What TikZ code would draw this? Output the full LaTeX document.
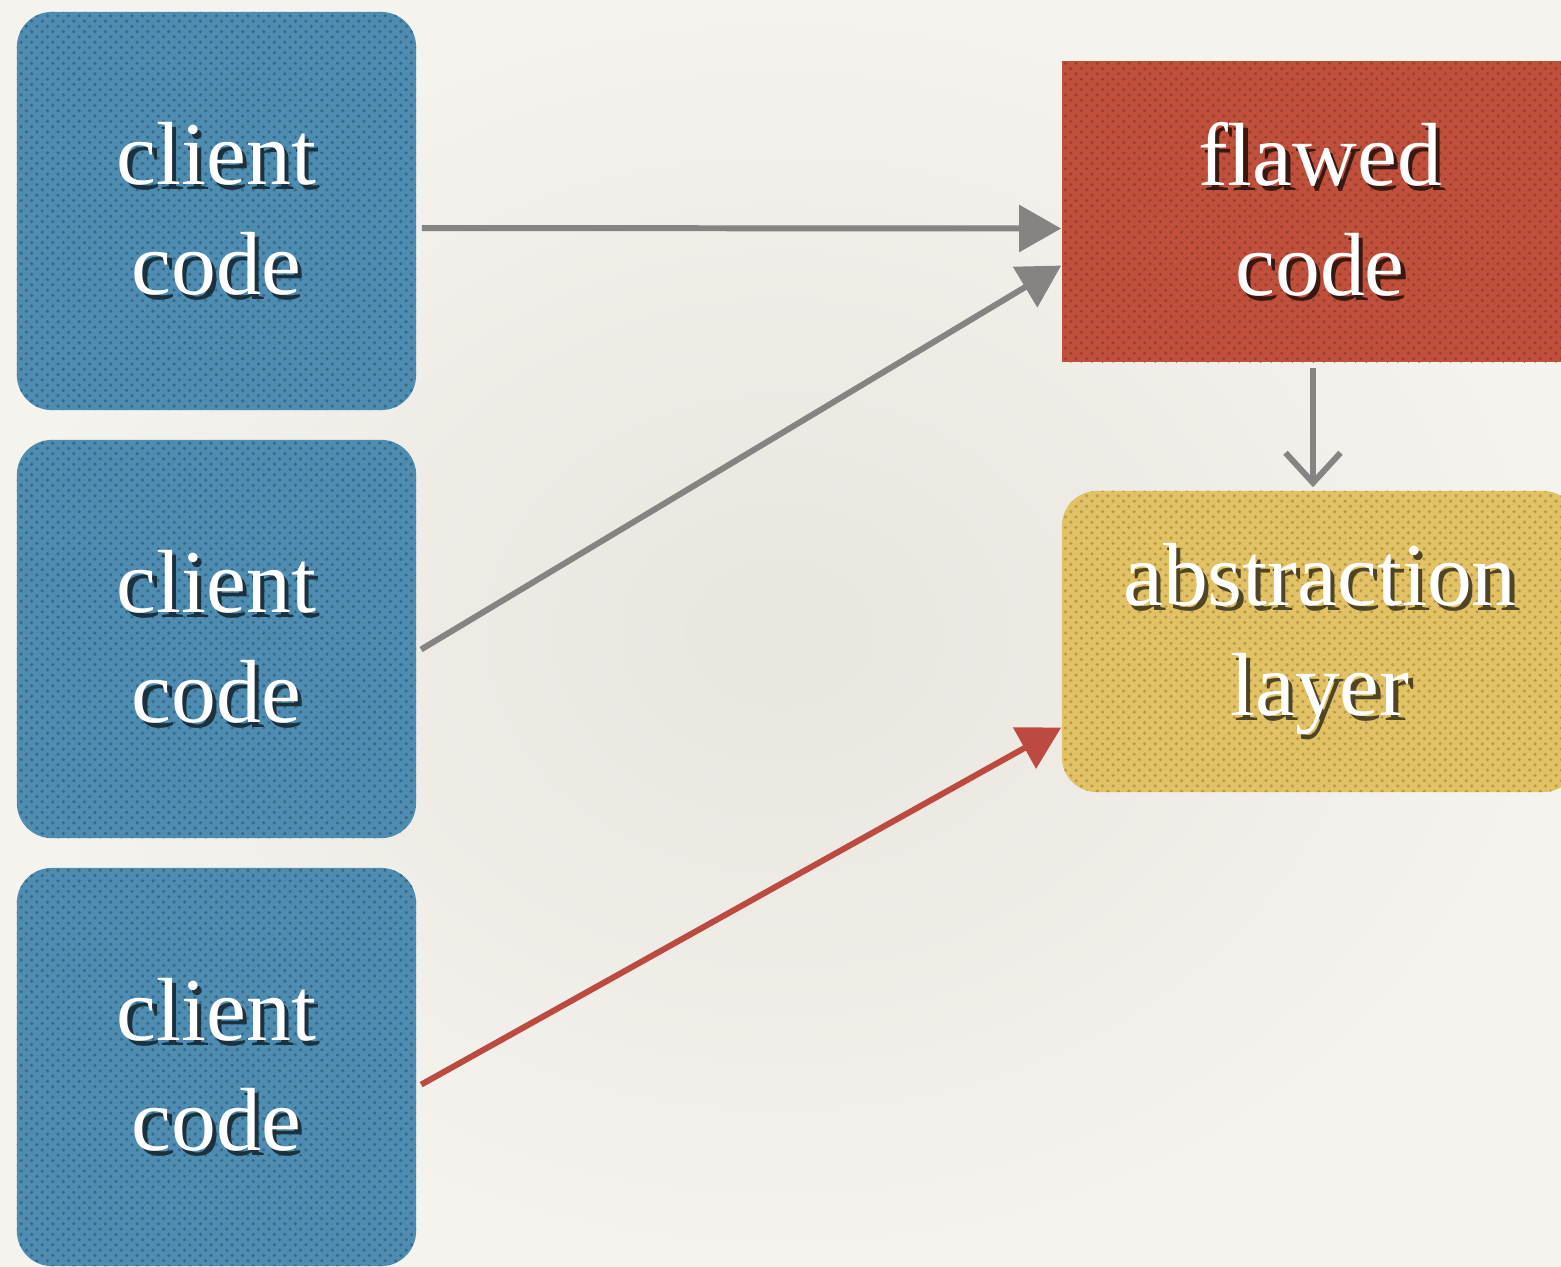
\documentclass[tikz,border=0pt]{standalone}
\usepackage{fontspec}
\setmainfont{Liberation Serif}
\usetikzlibrary{arrows.meta,patterns}
\definecolor{bgin}{HTML}{E9E5DF}
\definecolor{bgout}{HTML}{F5F3EE}
\definecolor{cblue}{HTML}{4E8CB2}
\definecolor{cred}{HTML}{C0503C}
\definecolor{cyel}{HTML}{E2C264}
\definecolor{agray}{HTML}{858482}
\definecolor{ared}{HTML}{BD4A40}
\newcommand\shtxt[2]{\makebox[0pt][l]{\hspace*{1.2pt}\raisebox{-1.4pt}{\textcolor{#1}{#2}}}#2}
\tikzset{
  boxbase/.style={draw=none, text=white, align=center,
    font=\fontsize{25.5}{31.3}\selectfont, inner sep=0pt},
  clientbox/.style={boxbase, fill=cblue, rounded corners=0.35cm,
    minimum width=3.99cm, minimum height=3.98cm,
    postaction={pattern=crosshatch dots, pattern color=cblue!75!black}},
  flawbox/.style={boxbase, fill=cred,
    minimum width=5.16cm, minimum height=3.01cm,
    postaction={pattern=crosshatch dots, pattern color=cred!80!black}},
  absbox/.style={boxbase, fill=cyel, rounded corners=0.35cm,
    minimum width=5.16cm, minimum height=3.01cm,
    postaction={pattern=crosshatch dots, pattern color=cyel!80!black}},
  conn/.style={line width=1.7pt, draw=agray, shorten <=0.05cm},
  filltip/.style={-{Triangle[length=0.42cm,width=0.46cm]}},
  opentip/.style={-{Straight Barb[length=0.3cm,width=0.55cm]}}
}
\begin{document}
\begin{tikzpicture}[x=0.01cm,y=-0.01cm]
\useasboundingbox (0,0) rectangle (1561,1266);
\clip (0,0) rectangle (1561,1266);
\shade[inner color=bgin, outer color=bgout] (0,0) rectangle (1561,1266);

\node[clientbox] (c1) at (216.5,211) {\shtxt{cblue!35!black}{client}\\\shtxt{cblue!35!black}{code}};
\node[clientbox] (c2) at (216.5,639) {\shtxt{cblue!35!black}{client}\\\shtxt{cblue!35!black}{code}};
\node[clientbox] (c3) at (216.5,1067) {\shtxt{cblue!35!black}{client}\\\shtxt{cblue!35!black}{code}};
\node[flawbox] (fl) at (1320,211.5) {\shtxt{cred!30!black}{flawed}\\\shtxt{cred!30!black}{code}};
\node[absbox] (ab) at (1320,641.5) {\shtxt{cyel!35!black}{abstraction}\\\shtxt{cyel!35!black}{layer}};

\draw[conn,filltip] ([yshift=-0.17cm]c1.east) -- ([yshift=-0.17cm]fl.west);
\draw[conn,filltip] ([yshift=-0.13cm]c2.east) -- ([yshift=-0.54cm]fl.west);
\draw[conn,opentip] ([xshift=-0.07cm]fl.south) -- ([xshift=-0.07cm,yshift=0.03cm]ab.north);
\draw[conn,filltip,draw=ared,fill=ared] ([yshift=-0.2cm]c3.east) -- ([yshift=-0.86cm]ab.west);
\end{tikzpicture}
\end{document}
